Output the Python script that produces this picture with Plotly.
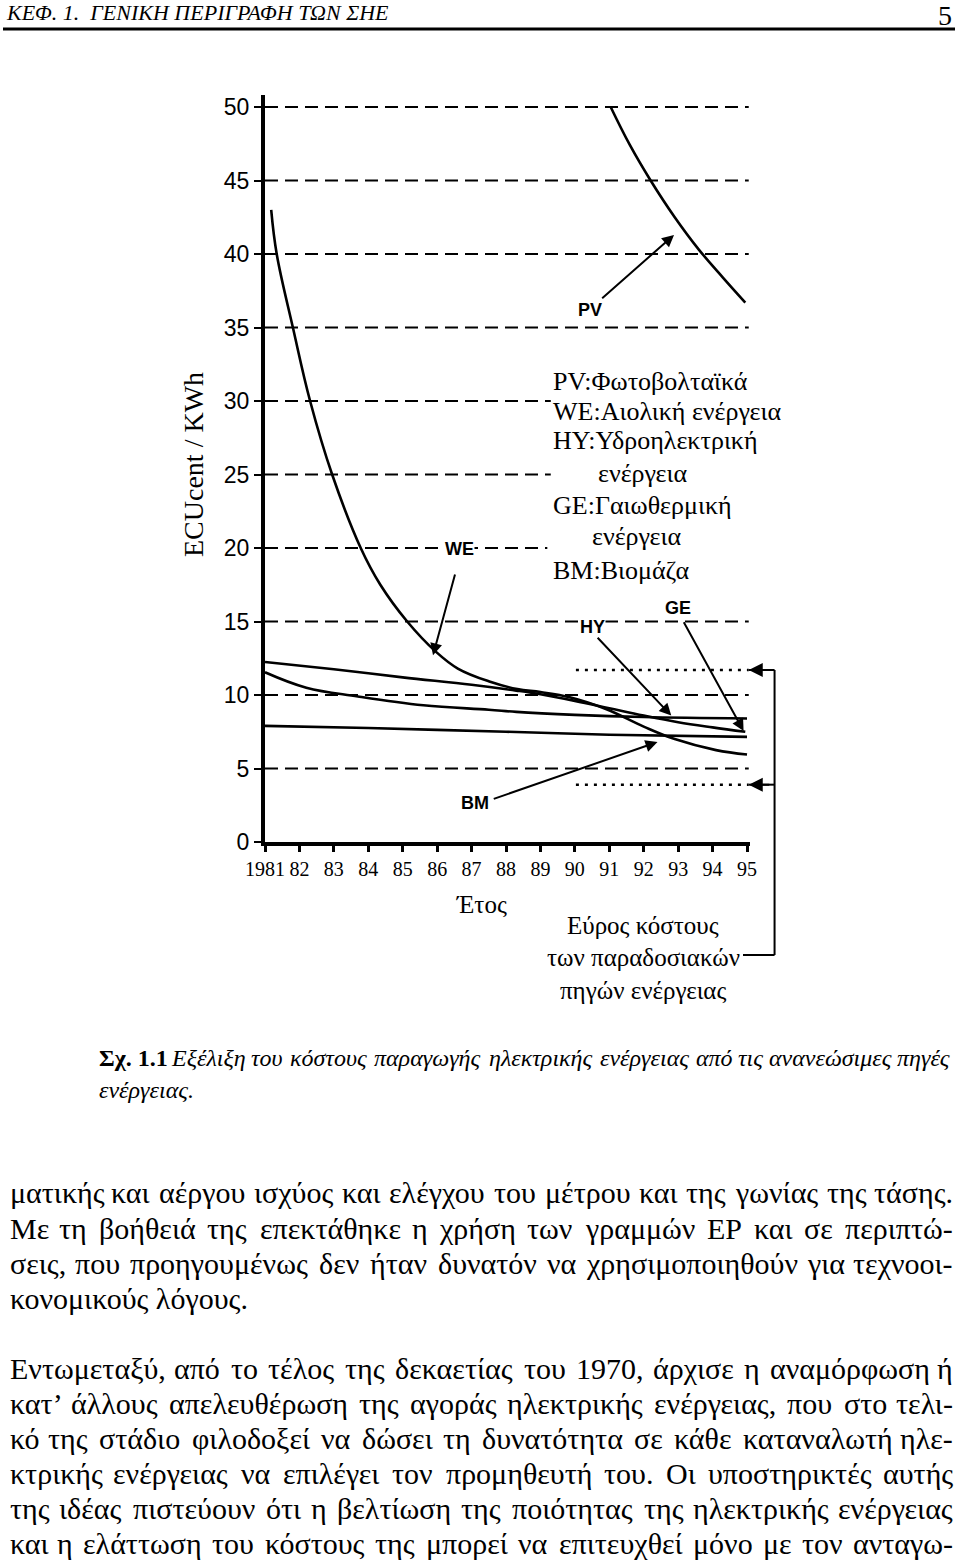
import unicodedata
import plotly.graph_objects as go

# ---------------- data ----------------
tick_years = [1981, 1982, 1983, 1984, 1985, 1986, 1987, 1988, 1989, 1990, 1991, 1992, 1993, 1994, 1995]
tick_labels = ["1981", "82", "83", "84", "85", "86", "87", "88", "89", "90", "91", "92", "93", "94", "95"]
y_tick_vals = [0, 5, 10, 15, 20, 25, 30, 35, 40, 45, 50]

pv_years = [1991.04, 1991.6, 1992.2, 1992.9, 1993.6, 1994.3, 1994.95]
pv_cost = [50, 47.4, 45, 42.5, 40.3, 38.4, 36.7]

we_years = [1981.18, 1981.34, 1981.81, 1982.31, 1982.95, 1983.78, 1984.35, 1985.13, 1985.96, 1986.6,
            1987.54, 1988.33, 1989.0, 1989.85, 1990.9, 1992.0, 1992.9, 1994.1, 1995.0]
we_cost = [43.0, 40, 35, 30, 25, 20, 17.5, 15, 12.95, 11.8, 10.9, 10.4, 10.2, 9.85, 9.05, 7.85, 7.0, 6.25, 5.95]

hy_years = [1981, 1982.2, 1983.7, 1985.6, 1987.5, 1988.3, 1990, 1992, 1995]
hy_cost = [11.55, 10.5, 9.9, 9.3, 9.0, 8.85, 8.65, 8.5, 8.4]

ge_years = [1981, 1983, 1985, 1987, 1988.3, 1989, 1990, 1991, 1992, 1993, 1994, 1994.95]
ge_cost = [12.25, 11.75, 11.2, 10.7, 10.3, 10.05, 9.6, 9.1, 8.6, 8.15, 7.8, 7.5]

bm_years = [1981, 1984, 1988, 1991, 1995]
bm_cost = [7.9, 7.75, 7.5, 7.3, 7.15]

grid_levels = [5, 10, 15, 20, 25, 30, 35, 40, 45, 50]
grid_ends = [1995.05, 1995.05, 1995.05, 1989.2, 1989.3, 1989.3, 1995.05, 1995.05, 1995.05, 1995.05]

conv_range = [11.7, 3.9]          # conventional cost range (dotted lines)
conv_start = 1990.03

legend_lines = ["PV:Φωτοβολταϊκά", "WE:Αιολική ενέργεια", "HY:Υδροηλεκτρική", "ενέργεια",
                "GE:Γαιωθερμική", "ενέργεια", "BM:Βιομάζα"]

header_text = "ΚΕΦ. 1.  ΓΕΝΙΚΗ ΠΕΡΙΓΡΑΦΗ ΤΩΝ ΣΗΕ"
page_no = "5"
caption_bold = "Σχ. 1.1"
caption_l1 = "Εξέλιξη του κόστους παραγωγής ηλεκτρικής ενέργειας από τις ανανεώσιμες πηγές"
caption_l2 = "ενέργειας."
para1 = ["ματικής και αέργου ισχύος και ελέγχου του μέτρου και της γωνίας της τάσης.",
         "Με τη βοήθειά της επεκτάθηκε η χρήση των γραμμών ΕΡ και σε περιπτώ-",
         "σεις, που προηγουμένως δεν ήταν δυνατόν να χρησιμοποιηθούν για τεχνοοι-",
         "κονομικούς λόγους."]
para1_justify = [True, True, True, False]
para2 = ["Εντωμεταξύ, από το τέλος της δεκαετίας του 1970, άρχισε η αναμόρφωση ή",
         "κατ’ άλλους απελευθέρωση της αγοράς ηλεκτρικής ενέργειας, που στο τελι-",
         "κό της στάδιο φιλοδοξεί να δώσει τη δυνατότητα σε κάθε καταναλωτή ηλε-",
         "κτρικής ενέργειας να επιλέγει τον προμηθευτή του. Οι υποστηρικτές αυτής",
         "της ιδέας πιστεύουν ότι η βελτίωση της ποιότητας της ηλεκτρικής ενέργειας",
         "και η ελάττωση του κόστους της μπορεί να επιτευχθεί μόνο με τον ανταγω-"]
para2_justify = [True, True, True, True, True, True]

# ---------------- page geometry ----------------
W, H = 960, 1561
X_LEFT, PX_PER_YEAR = 265.0, 34.43
Y_ZERO, PX_PER_UNIT = 842.0, 14.7
X_RANGE = [1981, 1995.1]
Y_RANGE = [0, 50.8]

def xp(year):
    return (X_LEFT + (year - 1981) * PX_PER_YEAR) / W

def yp_pix(py):
    return 1 - py / H

def yp(val):
    return yp_pix(Y_ZERO - val * PX_PER_UNIT)

SERIF = "Liberation Serif"
SANS = "Liberation Sans"

# approximate Times-like advance widths (em) used only to spread words of justified lines
_WID = {'α': .53, 'β': .50, 'γ': .45, 'δ': .49, 'ε': .42, 'ζ': .41, 'η': .50, 'θ': .49, 'ι': .27,
        'κ': .49, 'λ': .47, 'μ': .52, 'ν': .45, 'ξ': .42, 'ο': .50, 'π': .52, 'ρ': .50, 'σ': .53,
        'ς': .41, 'τ': .42, 'υ': .49, 'φ': .63, 'χ': .45, 'ψ': .65, 'ω': .68,
        'Ε': .61, 'Μ': .89, 'Ο': .72, 'Ρ': .56, 'Κ': .72, 'Φ': .76, 'Γ': .58, 'Η': .72, 'Ι': .33,
        'Τ': .61, 'Ω': .77, 'Σ': .59, 'Ν': .72, 'Α': .72, 'Β': .67, 'Δ': .66, 'Λ': .72, 'Π': .72,
        'Υ': .72, 'Χ': .72, 'Ψ': .80, 'Θ': .72, 'Ξ': .64, 'Ζ': .61,
        ',': .25, '.': .25, '-': .33, '’': .33, ':': .28, ' ': .25}

def est_w(s, size):
    tot = 0.0
    for ch in s:
        base = unicodedata.normalize('NFD', ch)[0]
        if base.isdigit():
            tot += .5
        else:
            tot += _WID.get(base, .5)
    return tot * size

annotations = []

def add_line(text, py, x0, x1, size, justify, style=None, first_prefix=None):
    """place a text line; justified lines are spread word by word between x0 and x1"""
    def wrap(t):
        if style == "i":
            return "<i>%s</i>" % t
        return t
    font = dict(family=SERIF, size=size, color="black")
    if not justify:
        annotations.append(dict(x=x0 / W, y=yp_pix(py), xref="paper", yref="paper", text=wrap(text),
                                showarrow=False, xanchor="left", yanchor="middle", font=font))
        return
    words = text.split()
    items = [(wrap(w), est_w(w, size)) for w in words]
    if first_prefix is not None:
        items = [("<b>%s</b>" % first_prefix, est_w(first_prefix, size) * 1.05)] + items
    total = sum(w for _, w in items)
    gap = (x1 - x0 - total) / (len(items) - 1)
    cx = x0
    for i, (t, w) in enumerate(items):
        if i == 0:
            annotations.append(dict(x=x0 / W, y=yp_pix(py), xref="paper", yref="paper", text=t,
                                    showarrow=False, xanchor="left", yanchor="middle", font=font))
        elif i == len(items) - 1:
            annotations.append(dict(x=x1 / W, y=yp_pix(py), xref="paper", yref="paper", text=t,
                                    showarrow=False, xanchor="right", yanchor="middle", font=font))
        else:
            annotations.append(dict(x=(cx + w / 2) / W, y=yp_pix(py), xref="paper", yref="paper", text=t,
                                    showarrow=False, xanchor="center", yanchor="middle", font=font))
        cx += w + gap

fig = go.Figure()

# gridlines
for lvl, end in zip(grid_levels, grid_ends):
    fig.add_trace(go.Scatter(x=[1981, end], y=[lvl, lvl], mode="lines",
                             line=dict(color="black", width=2, dash="13px,7px"),
                             hoverinfo="skip", showlegend=False))
# conventional range dotted
for lvl in conv_range:
    fig.add_trace(go.Scatter(x=[conv_start, 1995.05], y=[lvl, lvl], mode="lines",
                             line=dict(color="black", width=2.5, dash="3px,6px"),
                             hoverinfo="skip", showlegend=False))

curve_style = dict(color="black", width=2.6, shape="spline", smoothing=1.1)
for xs, ys, nm in [(pv_years, pv_cost, "PV"), (we_years, we_cost, "WE"), (hy_years, hy_cost, "HY"),
                   (ge_years, ge_cost, "GE"), (bm_years, bm_cost, "BM")]:
    fig.add_trace(go.Scatter(x=xs, y=ys, mode="lines", line=curve_style, name=nm, showlegend=False))

# series labels with arrows (tip at curve, tail at label)
lab_font = dict(family=SANS, size=18, color="black")
label_specs = [
    # text, label x, label y, arrow tail x, tail y, tip x, tip y
    ("PV", 1990.44, 36.2, 1990.75, 36.9, 1992.88, 41.3),
    ("WE", 1986.66, 19.9, 1986.53, 18.3, 1985.88, 12.7),
    ("HY", 1990.5, 14.6, 1990.62, 14.0, 1992.8, 8.6),
    ("GE", 1993.0, 15.9, 1993.14, 15.05, 1994.9, 7.55),
    ("BM", 1987.1, 2.65, 1987.6, 2.9, 1992.4, 6.8),
]
for t, lx, ly, tx, ty, hx, hy in label_specs:
    annotations.append(dict(x=lx, y=ly, xref="x", yref="y", text="<b>%s</b>" % t, showarrow=False,
                            xanchor="center", yanchor="middle",
                            font=lab_font, bgcolor="white", borderpad=0))
    annotations.append(dict(x=hx, y=hy, ax=tx, ay=ty, xref="x", yref="y", axref="x", ayref="y",
                            text="", showarrow=True, arrowhead=2, arrowsize=1.2, arrowwidth=2,
                            arrowcolor="black"))

# legend text block
leg_y = [382, 411, 441, 473, 505, 536, 570]
leg_x = [551, 551, 551, 643, 551, 637, 551]
leg_anchor = ["left", "left", "left", "center", "left", "center", "left"]
for txt, lx, ly, anc in zip(legend_lines, leg_x, leg_y, leg_anchor):
    annotations.append(dict(x=lx / W, y=yp_pix(ly), xref="paper", yref="paper", text=txt,
                            showarrow=False, xanchor=anc, yanchor="middle",
                            font=dict(family=SERIF, size=26, color="black")))

# bracket for conventional range
bx = xp(1995.8)
shapes = [
    dict(type="line", xref="paper", yref="paper", x0=bx, x1=bx, y0=yp(conv_range[0]), y1=yp_pix(955),
         line=dict(color="black", width=2)),
    dict(type="line", xref="paper", yref="paper", x0=bx, x1=743 / W, y0=yp_pix(955), y1=yp_pix(955),
         line=dict(color="black", width=2)),
    dict(type="line", xref="paper", yref="paper", x0=bx, x1=xp(1995.05), y0=yp(conv_range[0]), y1=yp(conv_range[0]),
         line=dict(color="black", width=2)),
    dict(type="line", xref="paper", yref="paper", x0=bx, x1=xp(1995.05), y0=yp(conv_range[1]), y1=yp(conv_range[1]),
         line=dict(color="black", width=2)),
    # header rule
    dict(type="line", xref="paper", yref="paper", x0=3 / W, x1=955 / W, y0=yp_pix(29), y1=yp_pix(29),
         line=dict(color="black", width=3)),
]
for lvl in conv_range:
    annotations.append(dict(x=xp(1995.05), y=yp(lvl), xref="paper", yref="paper", ax=22, ay=0,
                            text="", showarrow=True, arrowhead=2, arrowsize=1.4, arrowwidth=2,
                            arrowcolor="black"))

# axis texts
annotations.append(dict(x=481 / W, y=yp_pix(905), xref="paper", yref="paper", text="Έτος", showarrow=False,
                        xanchor="center", yanchor="middle", font=dict(family=SERIF, size=25, color="black")))
for txt, py in [("Εύρος κόστους", 925), ("των παραδοσιακών", 957), ("πηγών ενέργειας", 990)]:
    annotations.append(dict(x=643 / W, y=yp_pix(py), xref="paper", yref="paper", text=txt, showarrow=False,
                            xanchor="center", yanchor="middle", font=dict(family=SERIF, size=25, color="black")))
annotations.append(dict(x=193 / W, y=yp_pix(465), xref="paper", yref="paper", text="ECUcent / KWh",
                        showarrow=False, textangle=-90, xanchor="center", yanchor="middle",
                        font=dict(family=SERIF, size=28, color="black")))

# header
annotations.append(dict(x=4 / W, y=yp_pix(13), xref="paper", yref="paper", text="<i>%s</i>" % header_text,
                        showarrow=False, xanchor="left", yanchor="middle",
                        font=dict(family=SERIF, size=22, color="black")))
annotations.append(dict(x=954 / W, y=yp_pix(16), xref="paper", yref="paper", text=page_no,
                        showarrow=False, xanchor="right", yanchor="middle",
                        font=dict(family=SERIF, size=28, color="black")))

# caption
add_line(caption_l1, 1058, 97, 952, 24, True, style="i", first_prefix=caption_bold)
add_line(caption_l2, 1090, 97, 952, 24, False, style="i")

# body text
body_y1 = [1192, 1228, 1263, 1298]
body_y2 = [1368, 1403, 1438, 1473, 1508, 1543]
for lines, ys, js in [(para1, body_y1, para1_justify), (para2, body_y2, para2_justify)]:
    for txt, py, j in zip(lines, ys, js):
        add_line(txt, py, 8, 955, 30, j)

fig.update_layout(
    width=W, height=H, margin=dict(l=0, r=0, t=0, b=0, autoexpand=False),
    paper_bgcolor="white", plot_bgcolor="white",
    xaxis=dict(domain=[X_LEFT / W, xp(X_RANGE[1])], range=X_RANGE, showgrid=False, zeroline=False,
               automargin=False,
               showline=True, linecolor="black", linewidth=4, ticks="outside", ticklen=6, tickwidth=2.5,
               tickcolor="black", tickvals=tick_years, ticktext=tick_labels,
               tickfont=dict(family=SERIF, size=20, color="black"), ticklabelstandoff=0),
    yaxis=dict(domain=[yp(Y_RANGE[0]), yp(Y_RANGE[1])], range=Y_RANGE, showgrid=False, zeroline=False,
               automargin=False,
               showline=True, linecolor="black", linewidth=4, ticks="outside", ticklen=7, tickwidth=2,
               tickcolor="black", tickvals=y_tick_vals,
               tickfont=dict(family=SANS, size=23, color="black")),
    annotations=annotations, shapes=shapes,
)

fig.write_html("out.html", config={"displayModeBar": False},
               post_script="document.body.style.margin='0';document.body.style.overflow='hidden';")
